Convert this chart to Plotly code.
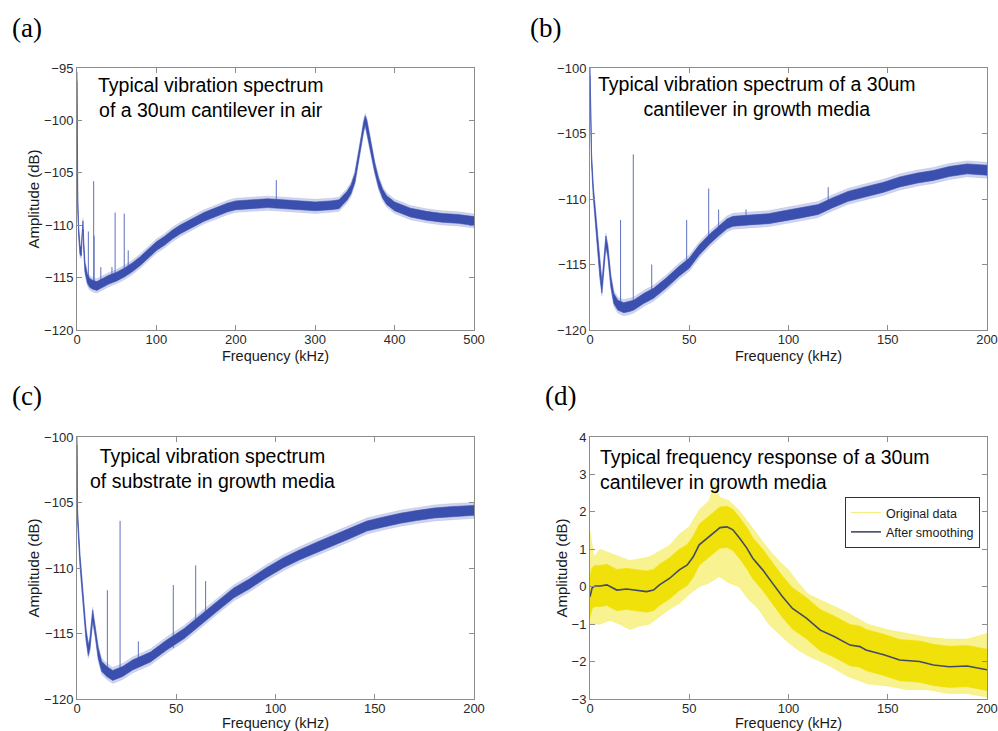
import numpy as np
import plotly.graph_objects as go

# ---------------- data ----------------
# (a) cantilever in air, 0-500 kHz
a_f = [0, 0.3, 1, 2, 3.8, 5.5, 6.5, 7.5, 8.5, 10, 13, 16, 20, 25, 30, 40, 50, 60, 70, 80,
       90, 100, 110, 120, 130, 140, 150, 160, 170, 180, 190, 200, 220, 240, 260, 280, 300, 320, 330, 340,
       345, 350, 355, 358, 361, 363, 365, 368, 371, 375, 380, 385, 390, 400, 420, 440, 460, 480, 500]
a_db = [-95.8, -104.5, -108, -110.5, -112.4, -112.5, -110.5, -110, -112, -114,
        -115.1, -115.5, -115.7, -115.8, -115.6, -115.2, -114.9, -114.5, -114.0, -113.4,
        -112.7, -112.0, -111.5, -110.9, -110.4, -110.0, -109.6, -109.2, -108.9, -108.6,
        -108.3, -108.1, -108.0, -107.9, -108.0, -108.1, -108.2, -108.1, -108.0, -107.2,
        -106.6, -105.5, -103.5, -102, -100.6, -100.0, -100.4, -101.6, -103, -104.5,
        -106, -107, -107.6, -108.2, -108.8, -109.1, -109.3, -109.4, -109.6]
a_spike_f = [14.3, 21, 21.6, 30, 44, 48, 59.5, 64.5, 251]
a_spike_top = [-110.6, -105.8, -111.0, -114, -114, -108.8, -108.9, -112.4, -105.7]
a_spike_base = [-115.3, -115.7, -115.7, -115.6, -115.1, -115.0, -114.5, -114.3, -108.0]
a_noise = 0.42

# (b) cantilever in growth media, 0-200 kHz
b_f = [0, 0.8, 1.7, 3.4, 5, 6, 7, 8, 9, 10.5, 12, 14, 17, 20, 22, 27, 32, 38.5, 45, 50,
       55, 60, 65, 69, 72, 80, 90, 97, 105, 115, 122, 130, 140, 148, 156, 165, 173, 181, 190, 200]
b_db = [-100.2, -107, -109.5, -112.6, -115.6, -116.8, -115, -113.2, -114, -116.3,
        -117.6, -118.1, -118.3, -118.2, -118.1, -117.6, -117.2, -116.4, -115.5, -114.9,
        -113.9, -113.1, -112.4, -111.9, -111.7, -111.6, -111.5, -111.3, -111.1, -110.8,
        -110.3, -109.8, -109.4, -109.1, -108.7, -108.4, -108.2, -107.9, -107.7, -107.8]
b_spike_f = [15.4, 21.8, 31.1, 48.7, 59.8, 64.8, 78.6, 120]
b_spike_top = [-111.6, -106.6, -115.0, -111.6, -109.2, -110.8, -110.8, -109.1]
b_spike_base = [-118.1, -118.1, -117.2, -115.0, -113.1, -112.4, -111.6, -110.4]
b_noise = 0.38

# (c) substrate in growth media, 0-200 kHz
c_f = [0, 0.3, 1.5, 3.2, 4.5, 5.7, 6.5, 7.9, 9.1, 10.7, 12.4, 15, 18, 23, 28, 37, 45, 54, 62, 70,
       79, 87, 95, 104, 112, 121, 129, 137, 146, 154, 163, 171, 180, 188, 200]
c_db = [-100.2, -106.1, -109.4, -112.7, -115, -116.3, -115.8, -113.6, -114.7, -116.5,
        -117.5, -117.9, -118.2, -117.9, -117.4, -116.8, -115.9, -115, -114, -113,
        -111.9, -111.2, -110.4, -109.6, -109, -108.4, -107.9, -107.4, -106.8, -106.5,
        -106.2, -106, -105.8, -105.7, -105.6]
c_spike_f = [15.3, 21.7, 30.9, 48.5, 59.8, 64.8]
c_spike_top = [-111.7, -106.4, -115.6, -111.3, -109.8, -111.0]
c_spike_base = [-117.9, -118.0, -117.3, -116.1, -114.2, -113.8]
c_noise = 0.38

# (d) frequency response: smoothed curve and spread of original data
d_f = [0, 1, 2.5, 5, 8.5, 13.5, 18.5, 23.5, 28.5, 32, 35, 40, 45, 49, 52, 55, 59, 62, 65.5, 69,
       72, 75.5, 79, 82, 87, 92, 97, 102, 109, 116, 123, 131, 136, 139, 148, 156, 166, 173, 181, 190,
       195, 200]
d_smooth = [-0.27, -0.04, 0.02, 0.02, 0.05, -0.09, -0.06, -0.1, -0.13, -0.09,
            0.05, 0.22, 0.45, 0.58, 0.8, 1.12, 1.29, 1.43, 1.58, 1.6,
            1.52, 1.29, 1.03, 0.76, 0.45, 0.09, -0.27, -0.58, -0.84, -1.16,
            -1.33, -1.56, -1.6, -1.69, -1.82, -1.96, -2.0, -2.09, -2.14, -2.12,
            -2.18, -2.22]
d_core = 0.55
d_env_f = [0, 2, 5, 10, 15, 20, 25, 30, 35, 40, 45, 50, 55, 60, 63, 65, 70, 75, 80, 85,
           90, 95, 100, 105, 110, 120, 130, 140, 150, 160, 170, 180, 190, 200]
d_env_hi = [1.5, 0.8, 1.0, 0.9, 0.8, 0.7, 0.75, 0.8, 0.95, 1.1, 1.4, 1.6, 2.05, 2.3, 2.8, 2.4, 2.3, 2.05, 1.7, 1.35,
            1.0, 0.7, 0.45, 0.1, -0.2, -0.45, -0.7, -1.0, -1.15, -1.25, -1.35, -1.4, -1.4, -1.25]
d_env_lo = [-1.0, -1.0, -1.0, -0.9, -1.0, -1.15, -1.05, -1.0, -0.8, -0.6, -0.45, -0.2, 0.0, 0.1, 0.2, 0.27, 0.1, 0.0, -0.35, -0.6,
            -1.0, -1.25, -1.5, -1.7, -1.85, -2.1, -2.4, -2.6, -2.65, -2.75, -2.75, -2.85, -2.85, -2.95]

# ---------------- styling ----------------
W, H = 998, 731
BLUE = "#3a4fae"
BLUE_FRINGE = "rgba(120,135,205,0.35)"
SPIKE = "#5f70c0"
YELLOW = "#f0e10a"
YELLOW_LIGHT = "rgba(244,234,70,0.6)"
SANS = "Liberation Sans, Arial, sans-serif"
SERIF = "Liberation Serif, Times New Roman, serif"


def px_x(p):
    return p / W


def px_y(p):
    return 1 - p / H


fig = go.Figure()

panels = {
    "a": dict(xd=[77, 474], yd=[68, 330]),
    "b": dict(xd=[590, 987], yd=[68, 330]),
    "c": dict(xd=[77, 474], yd=[437, 699]),
    "d": dict(xd=[590, 987], yd=[437, 699]),
}
axis_ids = {"a": ("x", "y"), "b": ("x2", "y2"), "c": ("x3", "y3"), "d": ("x4", "y4")}


def band(f, lo, hi, color, xa, ya):
    f = list(f)
    return go.Scatter(x=f + f[::-1], y=list(hi) + list(lo)[::-1], fill="toself",
                      fillcolor=color, line=dict(color=color, width=0.6),
                      mode="lines", hoverinfo="skip", showlegend=False,
                      xaxis=xa, yaxis=ya)


def spikes(sf, top, base, xa, ya):
    xs, ys = [], []
    for f, t, b in zip(sf, top, base):
        xs += [f, f, None]
        ys += [b, t, None]
    return go.Scatter(x=xs, y=ys, mode="lines", line=dict(color=SPIKE, width=1),
                      showlegend=False, hoverinfo="skip", xaxis=xa, yaxis=ya)


for key, f, db, sf, st, sb, nz in [
    ("a", a_f, a_db, a_spike_f, a_spike_top, a_spike_base, a_noise),
    ("b", b_f, b_db, b_spike_f, b_spike_top, b_spike_base, b_noise),
    ("c", c_f, c_db, c_spike_f, c_spike_top, c_spike_base, c_noise),
]:
    xa, ya = axis_ids[key]
    arr = np.array(db)
    fig.add_trace(band(f, arr - 1.6 * nz, arr + 1.6 * nz, BLUE_FRINGE, xa, ya))
    fig.add_trace(spikes(sf, st, sb, xa, ya))
    fig.add_trace(band(f, arr - nz, arr + nz, BLUE, xa, ya))

# (d)
fig.add_trace(band(d_env_f, d_env_lo, d_env_hi, YELLOW_LIGHT, "x4", "y4"))
sm = np.array(d_smooth)
fig.add_trace(band(d_f, sm - d_core, sm + d_core, YELLOW, "x4", "y4"))
fig.add_trace(go.Scatter(x=[None], y=[None], mode="lines", name="Original data",
                         line=dict(color="#f3eb70", width=1), xaxis="x4", yaxis="y4",
                         legendrank=1))
fig.add_trace(go.Scatter(x=d_f, y=d_smooth, mode="lines", name="After smoothing",
                         line=dict(color="#434a66", width=1.6), xaxis="x4", yaxis="y4",
                         legendrank=2))

# axes
ranges = {
    "a": ([0, 500], list(range(0, 501, 100)), [-120, -95], list(range(-120, -94, 5))),
    "b": ([0, 200], list(range(0, 201, 50)), [-120, -100], list(range(-120, -99, 5))),
    "c": ([0, 200], list(range(0, 201, 50)), [-120, -100], list(range(-120, -99, 5))),
    "d": ([0, 200], list(range(0, 201, 50)), [-3, 4], list(range(-3, 5, 1))),
}
common = dict(showgrid=False, zeroline=False, showline=True, linecolor="#8c8c8c",
              linewidth=1, mirror="ticks", ticks="inside", ticklen=5, tickcolor="#8c8c8c",
              automargin=False,
              tickfont=dict(family=SANS, size=13, color="#2a2a2a"))
layout_axes = {}
for i, key in enumerate(["a", "b", "c", "d"]):
    xr, xt, yr, yt = ranges[key]
    sfx = "" if i == 0 else str(i + 1)
    xd, yd = panels[key]["xd"], panels[key]["yd"]
    layout_axes["xaxis" + sfx] = dict(
        common, range=xr, tickvals=xt, domain=[px_x(xd[0]), px_x(xd[1])],
        anchor="y" + sfx, ticklabelstandoff=-3,
        title=dict(text="Frequency (kHz)", font=dict(family=SANS, size=14.5, color="#1a1a1a"),
                   standoff=5))
    ytitle = None if key == "b" else dict(text="Amplitude (dB)",
                                         font=dict(family=SANS, size=15, color="#1a1a1a"),
                                         standoff=0)
    layout_axes["yaxis" + sfx] = dict(
        common, range=yr, tickvals=yt, domain=[px_y(yd[1]), px_y(yd[0])],
        anchor="x" + sfx, title=ytitle)

annotations = []
for lab, x, y in [("(a)", 27, 28), ("(b)", 545, 28), ("(c)", 27, 396), ("(d)", 560, 396)]:
    annotations.append(dict(text=lab, x=px_x(x), y=px_y(y), xref="paper", yref="paper",
                            showarrow=False, font=dict(family=SERIF, size=27, color="black"),
                            xanchor="center", yanchor="middle"))
notes = [
    ("Typical vibration spectrum<br>of a 30um cantilever in air", 210, 98, "center"),
    ("Typical vibration spectrum of a 30um<br>cantilever in growth media", 757, 96, "center"),
    ("Typical vibration spectrum<br>of substrate in growth media", 212, 468, "center"),
    ("Typical frequency response of a 30um<br>cantilever in growth media", 598, 469, "left"),
]
for txt, x, y, al in notes:
    annotations.append(dict(text=txt, x=px_x(x), y=px_y(y), xref="paper", yref="paper",
                            showarrow=False, align=al,
                            xanchor="center" if al == "center" else "left", yanchor="middle",
                            font=dict(family=SANS, size=19.5, color="black")))

fig.update_layout(
    width=W, height=H, autosize=False,
    margin=dict(l=0, r=0, t=0, b=0, autoexpand=False),
    paper_bgcolor="white", plot_bgcolor="white",
    showlegend=True,
    legend=dict(x=px_x(845), y=px_y(497), xanchor="left", yanchor="top",
                bgcolor="white", bordercolor="#333333", borderwidth=1,
                font=dict(family=SANS, size=12.5, color="#1a1a1a"),
                itemwidth=30, tracegroupgap=0),
    annotations=annotations,
    **layout_axes,
)

fig.write_html("out.html", config={"displayModeBar": False},
               post_script="document.body.style.margin='0';document.body.style.overflow='hidden';")
